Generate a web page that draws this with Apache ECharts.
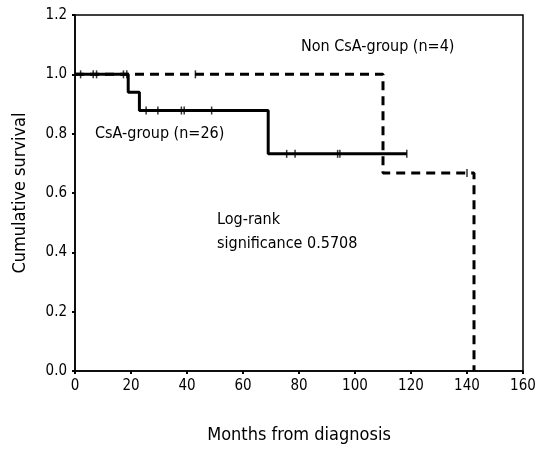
<!DOCTYPE html>
<html><head><meta charset="utf-8">
<script src="https://cdn.jsdelivr.net/npm/echarts@6/dist/echarts.min.js"></script>
<style>html,body{margin:0;padding:0;background:#fff}#c{width:545px;height:449px}</style>
</head><body><div id="c"></div>
<script>
// Kaplan-Meier steps: [months, survival]
const csaSteps = [[0,1.0],[19,0.94],[23,0.878],[69,0.732],[118.5,0.732]];
const nonCsaSteps = [[0,1.0],[110,0.667],[142.5,0.0]];
// censored observations
const csaCensored = [[2,1.0],[6.5,1.0],[7.7,1.0],[17.3,1.0],[18.5,1.0],
  [25.4,0.878],[29.6,0.878],[38,0.878],[39,0.878],[48.8,0.878],
  [75.6,0.732],[78.6,0.732],[93.8,0.732],[94.6,0.732],[118.5,0.732]];
const nonCsaCensored = [[43,1.0],[140,0.667]];
const xTicks = [0,20,40,60,80,100,120,140,160];
const yTicks = [0,0.2,0.4,0.6,0.8,1.0,1.2];

const FONT = '"Liberation Sans Narrow","DejaVu Sans Condensed",Arial,sans-serif';
const chart = echarts.init(document.getElementById('c'), null, {renderer:'canvas'});
chart.setOption({
  animation:false,
  backgroundColor:'#fff',
  grid:{left:75,right:22,top:15,bottom:75,show:true,borderColor:'#000',borderWidth:1.5,backgroundColor:'transparent'},
  xAxis:{type:'value',min:xTicks[0],max:xTicks[xTicks.length-1],interval:20,
    name:'Months from diagnosis',nameLocation:'middle',nameGap:55,
    nameTextStyle:{fontFamily:FONT,fontSize:18,color:'#000'},
    axisLine:{lineStyle:{color:'#000',width:1.5}},
    axisTick:{show:true,length:3,inside:false,lineStyle:{color:'#000',width:2}},
    axisLabel:{fontFamily:FONT,fontSize:15,color:'#000',margin:8},
    splitLine:{show:false}},
  yAxis:{type:'value',min:yTicks[0],max:yTicks[yTicks.length-1],interval:0.2,
    name:'Cumulative survival',nameLocation:'middle',nameGap:46,
    nameTextStyle:{fontFamily:FONT,fontSize:18,color:'#000'},
    axisLine:{show:true,lineStyle:{color:'#000',width:1.5}},
    axisTick:{show:true,length:3,lineStyle:{color:'#000',width:2}},
    axisLabel:{fontFamily:FONT,fontSize:15,color:'#000',margin:8,formatter:v=>v.toFixed(1)},
    splitLine:{show:false}},
  graphic:[
    {type:'text',left:301,top:39,style:{text:'Non CsA-group (n=4)',font:'16px '+FONT,fill:'#000'}},
    {type:'text',left:95,top:126,style:{text:'CsA-group (n=26)',font:'16px '+FONT,fill:'#000'}},
    {type:'text',left:217,top:212,style:{text:'Log-rank',font:'16px '+FONT,fill:'#000'}},
    {type:'text',left:217,top:236,style:{text:'significance 0.5708',font:'16px '+FONT,fill:'#000'}}
  ],
  series:[
    {type:'line',step:'end',data:nonCsaSteps,showSymbol:false,
      lineStyle:{color:'#000',width:3,type:[9,6]},z:2},
    {type:'line',step:'end',data:csaSteps,showSymbol:false,
      lineStyle:{color:'#000',width:3},z:3},
    {type:'scatter',data:csaCensored.concat(nonCsaCensored),symbol:'rect',symbolSize:[1.5,8],
      itemStyle:{color:'#000'},z:4}
  ]
});
</script></body></html>
